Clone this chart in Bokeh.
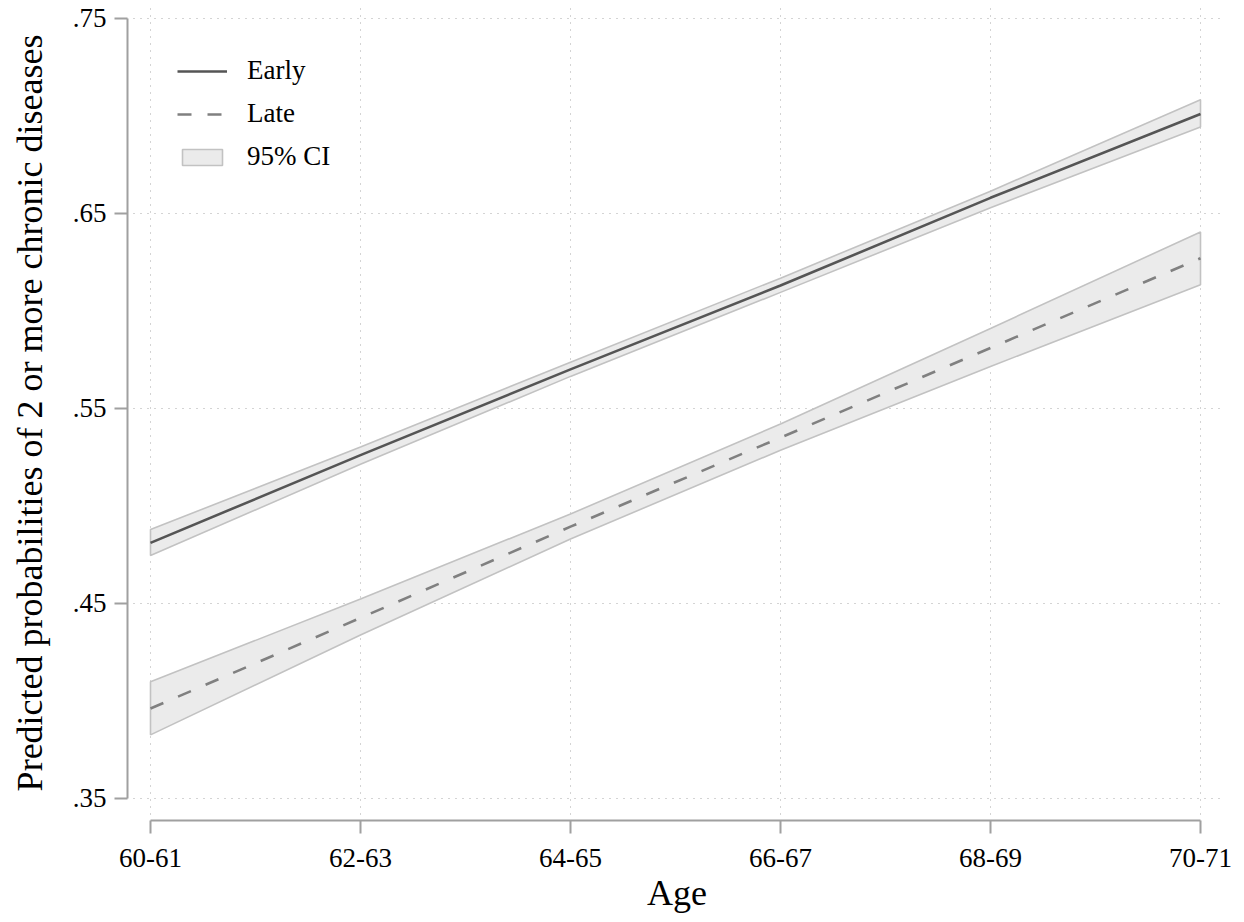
from bokeh.plotting import figure
from bokeh.models import Range1d, FixedTicker, Legend, LegendItem
from bokeh.embed import file_html
from bokeh.resources import INLINE

# ---------------- data ----------------
age_groups = ["60-61", "62-63", "64-65", "66-67", "68-69", "70-71"]

early_pred = [0.481, 0.526, 0.570, 0.613, 0.658, 0.701]
early_lo = [0.4745, 0.5213, 0.5664, 0.6095, 0.6529, 0.6943]
early_hi = [0.4878, 0.5302, 0.5737, 0.6168, 0.6614, 0.7083]

late_pred = [0.396, 0.4425, 0.4893, 0.535, 0.581, 0.627]
late_lo = [0.3825, 0.4337, 0.4830, 0.5285, 0.5715, 0.6134]
late_hi = [0.4097, 0.4522, 0.4958, 0.5420, 0.5910, 0.6405]

y_ticks = [0.35, 0.45, 0.55, 0.65, 0.75]
y_tick_labels = [".35", ".45", ".55", ".65", ".75"]

x_title = "Age"
y_title = "Predicted probabilities of 2 or more chronic diseases"

# ---------------- figure ----------------
xs = list(range(len(age_groups)))
FONT = "Liberation Serif"

p = figure(width=1244, height=922, output_backend="svg", toolbar_location=None,
           x_range=Range1d(-0.10952, 5.12381), y_range=Range1d(0.338564, 0.756667),
           min_border_left=127, min_border_right=18, min_border_top=5,
           min_border_bottom=102)
p.outline_line_color = None
p.background_fill_color = "white"
p.border_fill_color = "white"

band_fill = "#ebebeb"
band_line = "#c2c2c2"

def band_poly(lo, hi):
    px = xs + xs[::-1]
    py = list(hi) + list(lo)[::-1]
    return px, py

ex, ey = band_poly(early_lo, early_hi)
lx, ly = band_poly(late_lo, late_hi)
r_ci_e = p.patch(ex, ey, fill_color=band_fill, line_color=band_line, line_width=1.6)
r_ci_l = p.patch(lx, ly, fill_color=band_fill, line_color=band_line, line_width=1.6)

r_early = p.line(xs, early_pred, line_color="#555555", line_width=2.6)
r_late = p.line(xs, late_pred, line_color="#808080", line_width=2.6, line_dash="14 16")

# ---------------- axes ----------------
axis_col = "#a0a0a0"
for ax in (p.xaxis[0], p.yaxis[0]):
    ax.axis_line_color = axis_col
    ax.axis_line_width = 2
    ax.major_tick_line_color = axis_col
    ax.major_tick_line_width = 2
    ax.major_tick_out = 13
    ax.major_tick_in = 0
    ax.minor_tick_line_color = None
    ax.major_label_text_font = FONT
    ax.major_label_text_font_size = "27px"
    ax.major_label_text_color = "black"
    ax.axis_label_text_font = FONT
    ax.axis_label_text_font_size = "36px"
    ax.axis_label_text_font_style = "normal"
    ax.axis_label_text_color = "black"

xa = p.xaxis[0]
xa.ticker = FixedTicker(ticks=xs)
xa.major_label_overrides = {i: lab for i, lab in zip(xs, age_groups)}
xa.bounds = (xs[0], xs[-1])
xa.axis_label = x_title
xa.major_label_standoff = 15
xa.axis_label_standoff = 3

ya = p.yaxis[0]
ya.ticker = FixedTicker(ticks=y_ticks)
ya.major_label_overrides = {t: lab for t, lab in zip(y_ticks, y_tick_labels)}
ya.bounds = (y_ticks[0], y_ticks[-1])
ya.axis_label = y_title
ya.major_label_standoff = 8
ya.axis_label_standoff = 20
ya.major_label_orientation = "horizontal"

# ---------------- grid ----------------
for g in (p.xgrid[0], p.ygrid[0]):
    g.grid_line_color = "#a8a8a8"
    g.grid_line_width = 1
    g.grid_line_dash = "1 6"
try:
    p.ygrid[0].cross_bounds = (-0.081, 5.119)
    p.xgrid[0].cross_bounds = (0.3415, 0.7565)
except Exception:
    pass

# ---------------- legend ----------------
legend = Legend(items=[
    LegendItem(label="Early", renderers=[r_early]),
    LegendItem(label="Late", renderers=[r_late]),
    LegendItem(label="95% CI", renderers=[r_ci_e]),
], location="top_left")
legend.border_line_color = None
legend.background_fill_alpha = 0
legend.margin = 50
legend.padding = 0
legend.spacing = 12
legend.glyph_width = 50
legend.glyph_height = 20
legend.label_height = 30
legend.label_standoff = 20
legend.label_text_font = FONT
legend.label_text_font_size = "27px"
legend.label_text_color = "black"
p.add_layout(legend)

open("out.html", "w").write(file_html(p, INLINE))
